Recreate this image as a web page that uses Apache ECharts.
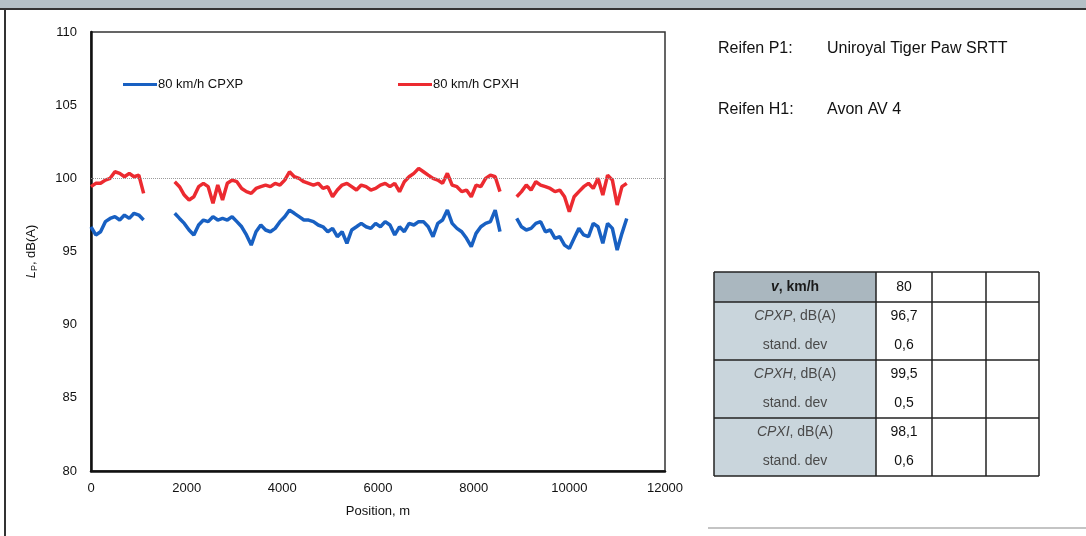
<!DOCTYPE html>
<html>
<head>
<meta charset="utf-8">
<title>CPX 80 km/h</title>
<script src="https://cdn.jsdelivr.net/npm/echarts@6/dist/echarts.min.js"></script>
<style>
  html, body { margin: 0; padding: 0; background: #ffffff; }
  #chart { width: 1086px; height: 536px; }
</style>
</head>
<body>
<div id="chart"></div>
<script>
// Measurement runs: start position of each run (m) and sample spacing (m)
const runStarts = [0, 1750, 8900];
const sampleStep = 100;

// CPXP level along the track, dB(A), one array per run
const cpxpRun1 = [96.69, 96.13, 96.35, 97.04, 97.26, 97.38, 97.15, 97.49, 97.26, 97.61, 97.49, 97.15];
const cpxpRun2 = [97.61, 97.26, 96.92, 96.47, 96.13, 96.81, 97.15, 97.04, 97.38, 97.15,
                  97.26, 97.15, 97.38, 97.04, 96.69, 96.13, 95.44, 96.35, 96.81, 96.47,
                  96.35, 96.58, 97.04, 97.38, 97.83, 97.61, 97.38, 97.15, 97.15, 97.04,
                  96.81, 96.69, 96.35, 96.58, 96.01, 96.35, 95.56, 96.47, 96.69, 96.92,
                  96.69, 96.58, 96.92, 96.69, 97.04, 96.81, 96.13, 96.69, 96.35, 96.92,
                  96.81, 97.04, 97.04, 96.69, 96.01, 96.92, 97.15, 97.83, 96.92, 96.58,
                  96.35, 95.90, 95.33, 96.24, 96.69, 96.92, 97.04, 97.83, 96.35];
const cpxpRun3 = [97.26, 96.69, 96.47, 96.58, 96.92, 97.04, 96.35, 96.47, 95.90, 96.01,
                  95.44, 95.21, 95.90, 96.58, 96.13, 96.01, 96.92, 96.69, 95.56, 96.92,
                  96.58, 95.10, 96.24, 97.26];

// CPXH level along the track, dB(A)
const cpxhRun1 = [99.43, 99.66, 99.66, 99.88, 100.00, 100.45, 100.34, 100.11, 100.34, 100.11, 100.22, 98.97];
const cpxhRun2 = [99.77, 99.43, 98.86, 98.52, 98.74, 99.43, 99.66, 99.43, 98.29, 99.54,
                  98.52, 99.66, 99.88, 99.77, 99.31, 99.09, 98.97, 99.31, 99.43, 99.54,
                  99.43, 99.66, 99.54, 99.88, 100.45, 100.11, 100.00, 99.77, 99.66, 99.54,
                  99.66, 99.31, 99.43, 98.74, 99.20, 99.54, 99.66, 99.43, 99.20, 99.54,
                  99.43, 99.20, 99.31, 99.54, 99.66, 99.43, 99.66, 99.09, 99.77, 100.11,
                  100.34, 100.68, 100.45, 100.22, 100.00, 99.88, 99.66, 100.34, 99.54, 99.43,
                  99.09, 99.20, 98.74, 99.54, 99.43, 100.00, 100.22, 100.11, 99.09];
const cpxhRun3 = [98.74, 99.09, 99.54, 99.20, 99.77, 99.54, 99.43, 99.31, 99.09, 99.20,
                  98.74, 97.72, 98.74, 99.09, 99.43, 99.66, 99.31, 100.00, 98.86, 100.22,
                  99.88, 98.18, 99.43, 99.66];

// Axis ticks
const xTicks = [0, 2000, 4000, 6000, 8000, 10000, 12000];
const yTicks = [80, 85, 90, 95, 100, 105, 110];

// Tyre descriptions
const tyreLabels = ['Reifen P1:', 'Reifen H1:'];
const tyreNames = ['Uniroyal Tiger Paw SRTT', 'Avon AV 4'];

// Summary table
const tableSpeed = '80';
const tableQuantities = ['CPXP', 'CPXH', 'CPXI'];
const tableMeans = ['96,7', '99,5', '98,1'];
const tableDevs = ['0,6', '0,5', '0,6'];

const FONT = 'Liberation Sans, Arial, sans-serif';

// Join runs into one series with breaks between them
function buildSeries(runs) {
  const out = [];
  runs.forEach((vals, r) => {
    if (r > 0) out.push([runStarts[r] - sampleStep / 2, '-']);
    vals.forEach((v, i) => out.push([runStarts[r] + i * sampleStep, v]));
  });
  return out;
}

const cpxpData = buildSeries([cpxpRun1, cpxpRun2, cpxpRun3]);
const cpxhData = buildSeries([cpxhRun1, cpxhRun2, cpxhRun3]);

// Table drawing
const colX = [714, 876, 932, 986, 1039];
const rowY = [272, 302, 331, 360, 389, 418, 447, 476];
const tableGraphics = [];
// shaded label column
tableGraphics.push({ type: 'rect', shape: { x: colX[0], y: rowY[0], width: colX[1] - colX[0], height: rowY[1] - rowY[0] },
  style: { fill: '#aab7bf' } });
tableGraphics.push({ type: 'rect', shape: { x: colX[0], y: rowY[1], width: colX[1] - colX[0], height: rowY[7] - rowY[1] },
  style: { fill: '#c9d5dc' } });
// header
tableGraphics.push({ type: 'text', x: (colX[0] + colX[1]) / 2, y: (rowY[0] + rowY[1]) / 2,
  style: { text: '{v|v}{n|, km/h}', align: 'center', verticalAlign: 'middle',
    rich: { v: { fontFamily: FONT, fontSize: 14, fontStyle: 'italic', fontWeight: 'bold', fill: '#1a1a1a' },
            n: { fontFamily: FONT, fontSize: 14, fontWeight: 'bold', fill: '#1a1a1a' } } } });
tableGraphics.push({ type: 'text', x: (colX[1] + colX[2]) / 2, y: (rowY[0] + rowY[1]) / 2,
  style: { text: tableSpeed, align: 'center', verticalAlign: 'middle', fontFamily: FONT, fontSize: 14, fill: '#111' } });
// groups
tableQuantities.forEach((q, g) => {
  const yA = rowY[1 + g * 2], yB = rowY[2 + g * 2], yC = rowY[3 + g * 2];
  tableGraphics.push({ type: 'text', x: (colX[0] + colX[1]) / 2, y: (yA + yB) / 2,
    style: { text: '{i|' + q + '}{n|, dB(A)}', align: 'center', verticalAlign: 'middle',
      rich: { i: { fontFamily: FONT, fontSize: 14, fontStyle: 'italic', fill: '#4a4a4a' },
              n: { fontFamily: FONT, fontSize: 14, fill: '#4a4a4a' } } } });
  tableGraphics.push({ type: 'text', x: (colX[0] + colX[1]) / 2, y: (yB + yC) / 2,
    style: { text: 'stand. dev', align: 'center', verticalAlign: 'middle', fontFamily: FONT, fontSize: 14, fill: '#4a4a4a' } });
  tableGraphics.push({ type: 'text', x: (colX[1] + colX[2]) / 2, y: (yA + yB) / 2,
    style: { text: tableMeans[g], align: 'center', verticalAlign: 'middle', fontFamily: FONT, fontSize: 14, fill: '#111' } });
  tableGraphics.push({ type: 'text', x: (colX[1] + colX[2]) / 2, y: (yB + yC) / 2,
    style: { text: tableDevs[g], align: 'center', verticalAlign: 'middle', fontFamily: FONT, fontSize: 14, fill: '#111' } });
});
// grid lines of the table
[0, 1, 3, 5, 7].forEach(r => {
  tableGraphics.push({ type: 'line', shape: { x1: colX[0], y1: rowY[r], x2: colX[4], y2: rowY[r] },
    style: { stroke: '#222', lineWidth: 1.5 } });
});
colX.forEach(x => {
  tableGraphics.push({ type: 'line', shape: { x1: x, y1: rowY[0], x2: x, y2: rowY[7] },
    style: { stroke: '#222', lineWidth: 1.5 } });
});

// Page frame and tyre notes
const frameGraphics = [
  { type: 'rect', shape: { x: 0, y: 0, width: 1086, height: 8 }, style: { fill: '#b4c0c6' } },
  { type: 'line', shape: { x1: 0, y1: 9, x2: 1086, y2: 9 }, style: { stroke: '#333', lineWidth: 2 } },
  { type: 'line', shape: { x1: 5, y1: 9, x2: 5, y2: 536 }, style: { stroke: '#333', lineWidth: 2 } },
  { type: 'line', shape: { x1: 708, y1: 528, x2: 1086, y2: 528 }, style: { stroke: '#c4c4c4', lineWidth: 2 } }
];
tyreLabels.forEach((lab, i) => {
  const y = [49, 110][i];
  frameGraphics.push({ type: 'text', x: 718, y: y,
    style: { text: lab, verticalAlign: 'middle', fontFamily: FONT, fontSize: 16, fill: '#111' } });
  frameGraphics.push({ type: 'text', x: 827, y: y,
    style: { text: tyreNames[i], verticalAlign: 'middle', fontFamily: FONT, fontSize: 16, fill: '#111' } });
});

const chart = echarts.init(document.getElementById('chart'), null, { renderer: 'canvas' });
chart.setOption({
  animation: false,
  backgroundColor: '#ffffff',
  grid: { left: 91, right: 421, top: 32, bottom: 65, show: true, borderColor: '#333', borderWidth: 1.5 },
  legend: [
    { data: ['80 km/h CPXP'], left: 118, top: 73, icon: 'rect', itemWidth: 34, itemHeight: 3,
      textStyle: { fontFamily: FONT, fontSize: 13, color: '#111', padding: [0, 0, 0, -4] } },
    { data: ['80 km/h CPXH'], left: 393, top: 73, icon: 'rect', itemWidth: 34, itemHeight: 3,
      textStyle: { fontFamily: FONT, fontSize: 13, color: '#111', padding: [0, 0, 0, -4] } }
  ],
  xAxis: {
    type: 'value', min: xTicks[0], max: xTicks[xTicks.length - 1], interval: 2000,
    name: 'Position, m', nameLocation: 'middle', nameGap: 34,
    nameTextStyle: { fontFamily: FONT, fontSize: 13, color: '#111' },
    axisLine: { show: true, lineStyle: { color: '#111', width: 2.5 } },
    axisTick: { show: false },
    splitLine: { show: false },
    axisLabel: { fontFamily: FONT, fontSize: 13, color: '#111', margin: 11, formatter: v => String(v) }
  },
  yAxis: {
    type: 'value', min: yTicks[0], max: yTicks[yTicks.length - 1], interval: 5,
    name: '{i|L}{s|P}{n|, dB(A)}', nameLocation: 'middle', nameGap: 52,
    nameTextStyle: { rich: {
      i: { fontFamily: FONT, fontSize: 13, fontStyle: 'italic', color: '#111' },
      s: { fontFamily: FONT, fontSize: 9, color: '#111', verticalAlign: 'bottom', padding: [6, 0, 0, 0] },
      n: { fontFamily: FONT, fontSize: 13, color: '#111' } } },
    axisLine: { show: true, lineStyle: { color: '#111', width: 2.5 } },
    axisTick: { show: false },
    splitLine: { show: false },
    axisLabel: { fontFamily: FONT, fontSize: 13, color: '#111', margin: 14, formatter: v => String(v) }
  },
  series: [
    {
      name: '80 km/h CPXP', type: 'line', data: cpxpData, showSymbol: false, symbol: 'none',
      connectNulls: false, color: '#1860c2',
      lineStyle: { width: 3.5, color: '#1860c2' },
      markLine: { silent: true, symbol: 'none', label: { show: false },
        lineStyle: { color: '#9a9a9a', width: 1, type: 'dotted' }, data: [{ yAxis: 100 }] }
    },
    {
      name: '80 km/h CPXH', type: 'line', data: cpxhData, showSymbol: false, symbol: 'none',
      connectNulls: false, color: '#ec2a30',
      lineStyle: { width: 3.5, color: '#ec2a30' }
    }
  ],
  graphic: frameGraphics.concat(tableGraphics)
});
</script>
</body>
</html>
